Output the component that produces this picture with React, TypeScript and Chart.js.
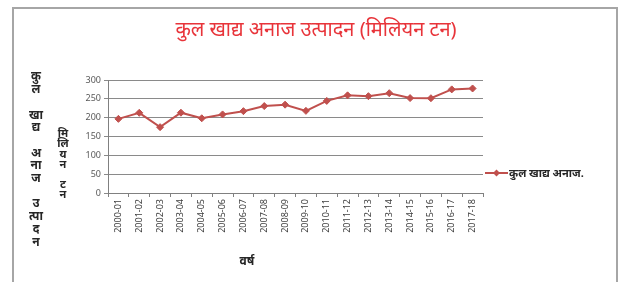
import React, { useEffect, useRef } from "react";
import { Chart, registerables } from "chart.js";

Chart.register(...registerables);

const categories = [
  "2000-01", "2001-02", "2002-03", "2003-04", "2004-05", "2005-06",
  "2006-07", "2007-08", "2008-09", "2009-10", "2010-11", "2011-12",
  "2012-13", "2013-14", "2014-15", "2015-16", "2016-17", "2017-18",
];
const production = [
  196.8, 212.9, 174.8, 213.2, 198.4, 208.6, 217.3, 230.8, 234.5,
  218.1, 244.5, 259.3, 257.1, 265.0, 252.0, 251.6, 275.1, 277.5,
];
const seriesName = "कुल खाद्य अनाज.";
const titleText = "कुल खाद्य अनाज उत्पादन (मिलियन टन)";
const xTitle = "वर्ष";
const yTitle1 = ["कु", "ल", "", "खा", "द्य", "", "अ", "ना", "ज", "", "उ", "त्पा", "द", "न"];
const yTitle2 = ["मि", "लि", "य", "न", "", "ट", "न"];

const FONT = '"Noto Sans", "Noto Sans Devanagari", "Lohit Devanagari", sans-serif';
const RED = "#c0504d";

export default function App() {
  const ref = useRef<HTMLCanvasElement>(null);
  useEffect(() => {
    document.body.style.margin = "0";
    const deco = {
      id: "deco",
      beforeDraw(chart: any) {
        const ctx = chart.ctx;
        ctx.save();
        ctx.fillStyle = "#fff";
        ctx.fillRect(0, 0, chart.width, chart.height);
        ctx.strokeStyle = "#a6a6a6";
        ctx.lineWidth = 2;
        ctx.beginPath();
        ctx.moveTo(13, 282);
        ctx.lineTo(13, 8);
        ctx.lineTo(617, 8);
        ctx.lineTo(617, 282);
        ctx.stroke();
        ctx.restore();
      },
      afterDraw(chart: any) {
        const ctx = chart.ctx;
        ctx.save();
        // title
        ctx.fillStyle = "#e8343a";
        ctx.font = `20px ${FONT}`;
        ctx.textAlign = "center";
        ctx.textBaseline = "middle";
        ctx.fillText(titleText, 316, 30);
        // y titles stacked
        ctx.fillStyle = "#262626";
        ctx.font = `bold 12px ${FONT}`;
        yTitle1.forEach((s, i) => ctx.fillText(s, 36, 77 + i * 12.7));
        ctx.font = `bold 11px ${FONT}`;
        yTitle2.forEach((s, i) => ctx.fillText(s, 63, 134 + i * 10.2));
        // x title
        ctx.font = `bold 12px ${FONT}`;
        ctx.fillText(xTitle, 247, 262);
        // legend
        const ly = 173;
        ctx.strokeStyle = RED;
        ctx.lineWidth = 2;
        ctx.beginPath();
        ctx.moveTo(485, ly);
        ctx.lineTo(508, ly);
        ctx.stroke();
        ctx.fillStyle = RED;
        ctx.beginPath();
        ctx.moveTo(496.5, ly - 3.5);
        ctx.lineTo(500, ly);
        ctx.lineTo(496.5, ly + 3.5);
        ctx.lineTo(493, ly);
        ctx.closePath();
        ctx.fill();
        ctx.fillStyle = "#262626";
        ctx.font = `bold 11px ${FONT}`;
        ctx.textAlign = "left";
        ctx.fillText(seriesName, 509, ly + 1);
        ctx.restore();
      },
    };
    const chart = new Chart(ref.current!, {
      type: "line",
      data: {
        labels: categories,
        datasets: [
          {
            label: seriesName,
            data: production,
            borderColor: RED,
            backgroundColor: RED,
            borderWidth: 2,
            pointStyle: "rectRot",
            pointRadius: 3.5,
            pointBorderWidth: 1,
            tension: 0,
          },
        ],
      },
      options: {
        animation: false,
        responsive: false,
        maintainAspectRatio: false,
        layout: { padding: { left: 0, top: 80, right: 138, bottom: 0 } },
        plugins: { legend: { display: false }, title: { display: false }, tooltip: { enabled: false } },
        scales: {
          x: {
            offset: true,
            grid: { offset: true, drawOnChartArea: false, drawTicks: true, tickLength: 4, color: "#808080" },
            border: { color: "#808080", width: 1 },
            ticks: {
              minRotation: 90,
              maxRotation: 90,
              autoSkip: false,
              padding: 2,
              color: "#404040",
              font: { family: FONT, size: 9 },
            },
            afterFit: (s: any) => { s.height = 89; },
          },
          y: {
            min: 0,
            max: 300,
            ticks: { stepSize: 50, color: "#595959", padding: 3, font: { family: FONT, size: 9 } },
            grid: { color: "#8a8a8a", tickLength: 4, lineWidth: 1 },
            border: { color: "#808080", width: 1 },
            afterFit: (s: any) => { s.width = 108; },
          },
        },
      },
      plugins: [deco],
    });
    return () => chart.destroy();
  }, []);
  return <canvas ref={ref} width={621} height={282} style={{ display: "block" }} />;
}
